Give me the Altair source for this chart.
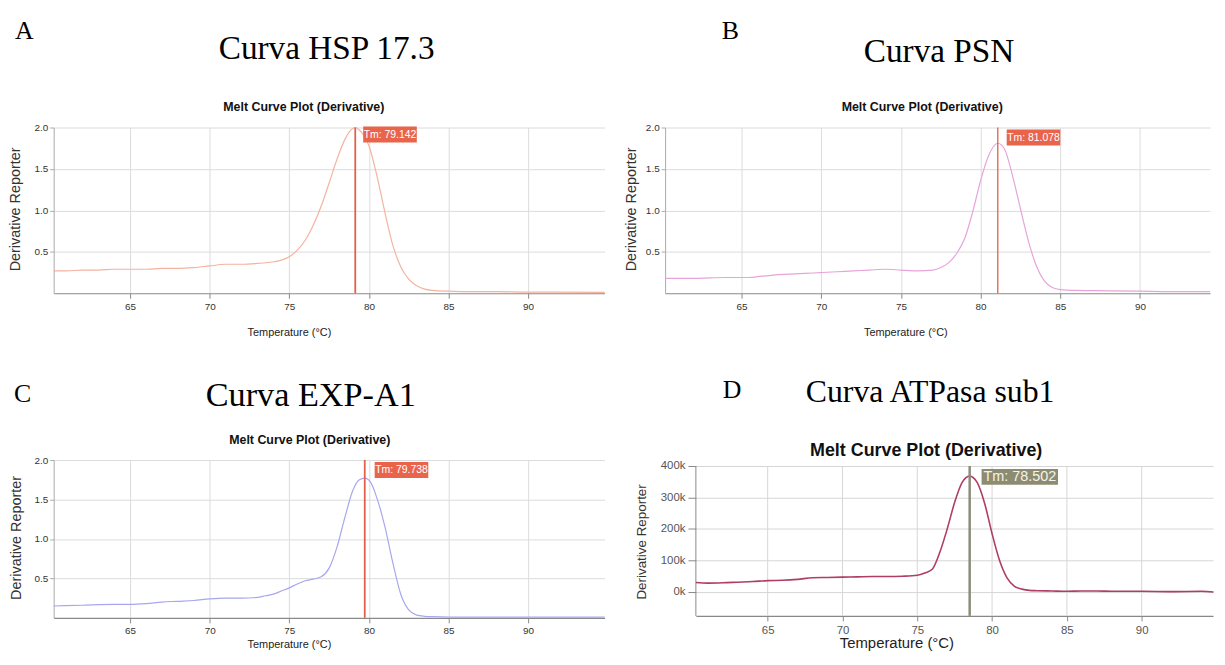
import altair as alt
import pandas as pd

SANS = "Liberation Sans, Arial, Helvetica, sans-serif"
SERIF = "Liberation Serif, Times New Roman, serif"

# ---------------- data ----------------
# A: Curva HSP 17.3
hsp_temp = [60.2, 61, 62, 63, 64, 65, 66, 67, 68, 69, 70, 71, 72, 73, 74, 74.5, 75, 75.5, 76,
            76.5, 77, 77.5, 78, 78.5, 79, 79.15, 79.4, 79.7, 80, 80.5, 81, 81.5, 82, 82.5, 83,
            83.5, 84, 85, 86, 88, 90, 92, 94.8]
hsp_value = [0.27, 0.27, 0.28, 0.28, 0.29, 0.29, 0.29, 0.30, 0.30, 0.31, 0.33, 0.35, 0.35, 0.36,
             0.38, 0.40, 0.44, 0.52, 0.64, 0.82, 1.05, 1.33, 1.62, 1.86, 1.99, 2.0, 1.97, 1.90,
             1.78, 1.42, 0.98, 0.58, 0.32, 0.17, 0.09, 0.05, 0.035, 0.025, 0.02, 0.02, 0.015,
             0.015, 0.01]
hsp_tm = 79.142

# B: Curva PSN
psn_temp = [60.2, 62, 64, 65, 65.5, 66, 67, 68, 69, 70, 71, 72, 73, 74, 75, 76, 77, 77.5, 78,
            78.5, 79, 79.5, 80, 80.5, 81.08, 81.5, 82, 82.5, 83, 83.5, 84, 84.5, 85, 86, 88, 90,
            92, 94.4]
psn_value = [0.18, 0.18, 0.19, 0.19, 0.19, 0.20, 0.22, 0.23, 0.24, 0.25, 0.26, 0.27, 0.28, 0.29,
             0.28, 0.27, 0.28, 0.31, 0.37, 0.48, 0.66, 0.98, 1.36, 1.66, 1.81, 1.74, 1.42, 1.02,
             0.63, 0.33, 0.15, 0.07, 0.045, 0.035, 0.03, 0.025, 0.02, 0.02]
psn_tm = 81.078

# C: Curva EXP-A1
exp_temp = [60.2, 62, 64, 65, 66, 67, 68, 69, 70, 71, 72, 73, 73.5, 74, 74.5, 75, 75.5, 76,
            76.5, 77, 77.5, 78, 78.5, 79, 79.4, 79.74, 80.1, 80.5, 81, 81.5, 82, 82.5, 83, 83.5,
            84, 85, 88, 90, 94.8]
exp_value = [0.15, 0.16, 0.17, 0.17, 0.18, 0.20, 0.21, 0.22, 0.24, 0.25, 0.25, 0.26, 0.28, 0.30,
             0.34, 0.38, 0.43, 0.47, 0.49, 0.52, 0.63, 0.90, 1.28, 1.62, 1.75, 1.77, 1.72, 1.52,
             1.16, 0.70, 0.30, 0.10, 0.035, 0.02, 0.015, 0.01, 0.01, 0.01, 0.01]
exp_tm = 79.738

# D: Curva ATPasa sub1
atp_temp = [60.2, 61, 62, 63, 64, 65, 66, 67, 68, 69, 70, 71, 72, 73, 74, 75, 75.5, 76, 76.5,
            77, 77.5, 78, 78.5, 79, 79.5, 80, 80.5, 81, 81.5, 82, 82.5, 83, 84, 85, 86, 87, 88,
            90, 92, 94, 94.8]
atp_value = [30000, 28000, 29000, 31000, 33000, 36000, 37000, 40000, 45000, 46000, 47000, 48000,
             49000, 49000, 50000, 53000, 60000, 72000, 125000, 200000, 285000, 348000, 368000,
             348000, 282000, 185000, 100000, 45000, 18000, 9000, 5000, 4000, 3000, 2000, 3000,
             3000, 2000, 2000, 1000, 2000, 0]
atp_tm = 78.502

d_ticks = [0, 100000, 200000, 300000, 400000]
x_ticks = [65, 70, 75, 80, 85, 90]
y_ticks = [0.5, 1.0, 1.5, 2.0]

anchor_df = pd.DataFrame({"a": ["."]})


def anchor(x, y, baseline="top"):
    return alt.Chart(anchor_df).mark_text(
        opacity=0, fontSize=1, baseline=baseline, align="left"
    ).encode(x=alt.value(x), y=alt.value(y), text="a:N")


def label(txt, x, y, font, size, weight="normal", align="center", color="#000"):
    return alt.Chart(pd.DataFrame({"t": [txt]})).mark_text(
        font=font, fontSize=size, fontWeight=weight, align=align, baseline="alphabetic",
        color=color
    ).encode(x=alt.value(x), y=alt.value(y), text="t:N")


def panel(temps, vals, tm, c):
    w, h = c["w"], c["h"]
    df = pd.DataFrame({"Temperature": temps, "Reporter": vals})
    tmdf = pd.DataFrame({"Temperature": [tm], "label": [f"Tm: {tm:.3f}"]})
    xscale = alt.Scale(domain=c["xdom"], nice=False, zero=False)
    yscale = alt.Scale(domain=c["ydom"], nice=False, zero=False)
    own_grid = c.get("ytop") is not None
    xaxis = alt.Axis(
        values=x_ticks, format="d", grid=not own_grid, gridColor=c["grid"], gridWidth=1,
        domainColor=c["xdomain"], domainWidth=c["xdomw"], tickColor=c["xdomain"], tickSize=5,
        labelFont=SANS, labelFontSize=c["lsize"], labelColor=c["lcolor"],
        labelPadding=c["xlpad"], title="Temperature (°C)", titleFont=SANS,
        titleFontSize=c["xtsize"], titleFontWeight="normal", titleColor="#222",
        titleBaseline="middle", titleAlign="center", titleX=c["xtx"], titleY=c["xty"],
    )
    yaxis = alt.Axis(
        values=c["yvals"], grid=True, gridColor=c["grid"], gridWidth=1,
        domain=not own_grid, domainColor=c["ydomain"], tickColor=c["ydomain"],
        tickSize=c["ytick"], labelFont=SANS, labelFontSize=c["lsize"], labelColor=c["lcolor"],
        labelPadding=c["ylpad"], labelExpr=c["lexpr"], title="Derivative Reporter",
        titleFont=SANS, titleFontSize=c["ytsize"], titleFontWeight="normal",
        titleColor="#333", titleBaseline="middle", titleAlign="center", titleAngle=270,
        titleX=c["ytx"], titleY=c["yty"],
    )
    X = alt.X("Temperature:Q", scale=xscale, axis=xaxis)
    layers = []
    if own_grid:
        ybot = alt.datum(c["ydom"][0])
        grid_df = pd.DataFrame({"Temperature": x_ticks})
        layers.append(alt.Chart(grid_df).mark_rule(color=c["grid"], strokeWidth=1).encode(
            x=X, y=alt.Y(datum=c["ytop"], scale=yscale, axis=yaxis), y2=ybot))
        edge_df = pd.DataFrame({"Temperature": [c["xdom"][0]]})
        layers.append(alt.Chart(edge_df).mark_rule(color=c["ydomain"], strokeWidth=1).encode(
            x=X, y=alt.Y(datum=c["ytop"], scale=yscale, axis=yaxis), y2=ybot))
    line = alt.Chart(df).mark_line(color=c["color"], strokeWidth=c["lw"], interpolate="monotone").encode(
        x=X, y=alt.Y("Reporter:Q", scale=yscale, axis=yaxis),
    )
    layers.append(line)
    if own_grid:
        rule = alt.Chart(tmdf).mark_rule(color=c["rule"], strokeWidth=c["rw"]).encode(
            x=X, y=alt.Y(datum=c["ytop"], scale=yscale, axis=yaxis),
            y2=alt.datum(c["ydom"][0]))
    else:
        rule = alt.Chart(tmdf).mark_rule(color=c["rule"], strokeWidth=c["rw"]).encode(x=X)
    box = alt.Chart(tmdf).mark_rect(
        color=c["box"], xOffset=c["bx"], x2Offset=c["bx"] + c["bw"]
    ).encode(
        x=X, x2="Temperature:Q",
        y=alt.value(c["by"]), y2=alt.value(c["by"] + c["bh"]),
    )
    btxt = alt.Chart(tmdf).mark_text(
        align="center", baseline="middle", font=SANS, fontSize=c["bsize"],
        color=c["btcol"], dx=c["bx"] + c["bw"] / 2,
    ).encode(
        x=X, y=alt.value(c["by"] + c["bh"] / 2 + 0.5), text="label:N",
    )
    texts = [
        label(c["letter"], c["lx"], c["ly"], SERIF, 26, align="left"),
        label(c["title"], c["tx"], c["ty"], SERIF, c["tsize"]),
        label("Melt Curve Plot (Derivative)", c["sx"], c["sy"], SANS, c["ssize"],
              weight="bold", color="#111"),
    ]
    anchors = [anchor(x, y, b) for (x, y, b) in c["anchors"]]
    return alt.layer(*layers, rule, box, btxt, *texts, *anchors).properties(width=w, height=h)


common_qs = dict(
    ydom=[0, 2.0], yvals=y_ticks, grid="#dcdcdc", xdomain="#8a8a8a", xdomw=1.2,
    ydomain="#aaaaaa", ytick=4, lsize=10, lcolor="#333", xlpad=3, ylpad=2,
    lexpr="format(datum.value, '.1f')", xtsize=11, ytsize=14.5, lw=1.2,
    rule="#e0604b", rw=1.8, box="#e8654b", bw=54, bh=16, bsize=10.5,
    btcol="#ffffff", ssize=12.5, tsize=33.5,
)

cfgA = dict(common_qs, w=555, h=167, xdom=[60.2, 94.8], color="#f4b3a0",
            xtx=237, xty=40, ytx=-38, yty=82, bx=8, by=-1,
            letter="A", lx=-39, ly=-89, title="Curva HSP 17.3", tx=275, ty=-69,
            sx=252, sy=-17,
            anchors=[(-44, -118, "top"), (-44, 217, "bottom")])
cfgB = dict(common_qs, w=549, h=167, xdom=[60.2, 94.4], color="#e6a4da",
            xtx=242, xty=40, ytx=-34, yty=82, bx=9, by=2, rw=1.3,
            letter="B", lx=57, ly=-89, title="Curva PSN", tx=276, ty=-66,
            sx=259, sy=-17,
            anchors=[(-44, -118, "top"), (-44, 217, "bottom")])
cfgC = dict(common_qs, w=555, h=159, xdom=[60.2, 94.8], color="#a7a7ef",
            xtx=237, xty=27, ytx=-37, yty=78, bx=10, by=2,
            letter="C", lx=-40, ly=-58, title="Curva EXP-A1", tx=259, ty=-54,
            sx=258, sy=-16, tsize=34.5,
            anchors=[(-44, -100, "top")])
cfgD = dict(
    w=521, h=157, xdom=[60.2, 94.77], ydom=[-76000, 419000], ytop=400000, yvals=d_ticks,
    grid="#d6d6d6", xdomain="#888888", xdomw=1.5, ydomain="#888888", ytick=8, lsize=11.5,
    lcolor="#555", xlpad=4, ylpad=3, lexpr="format(datum.value / 1000, 'd') + 'k'",
    xtsize=15, ytsize=13.5, lw=1.6, color="#b03d62", rule="#8c8c7a", rw=2.5,
    box="#8c8c72", bw=77, bh=16, bsize=14.5, btcol="#f4f4e6",
    ssize=18, tsize=32, xtx=202, xty=27, ytx=-55, yty=82, bx=12, by=9,
    letter="D", lx=27, ly=-63, title="Curva ATPasa sub1", tx=236, ty=-58, sx=232, sy=-4,
    anchors=[(-70, -100, "top")],
)

A = panel(hsp_temp, hsp_value, hsp_tm, cfgA)
B = panel(psn_temp, psn_value, psn_tm, cfgB)
C = panel(exp_temp, exp_value, exp_tm, cfgC)
D = panel(atp_temp, atp_value, atp_tm, cfgD)

row1 = alt.hconcat(A, B, spacing=61, bounds="flush")
row2 = alt.hconcat(C, D, spacing=19)
chart = (
    alt.vconcat(row1, row2, spacing=18)
    .properties(padding=0, background="white")
    .configure_view(stroke=None)
)

chart.save("out.html", embed_options={"renderer": "svg", "actions": False})
